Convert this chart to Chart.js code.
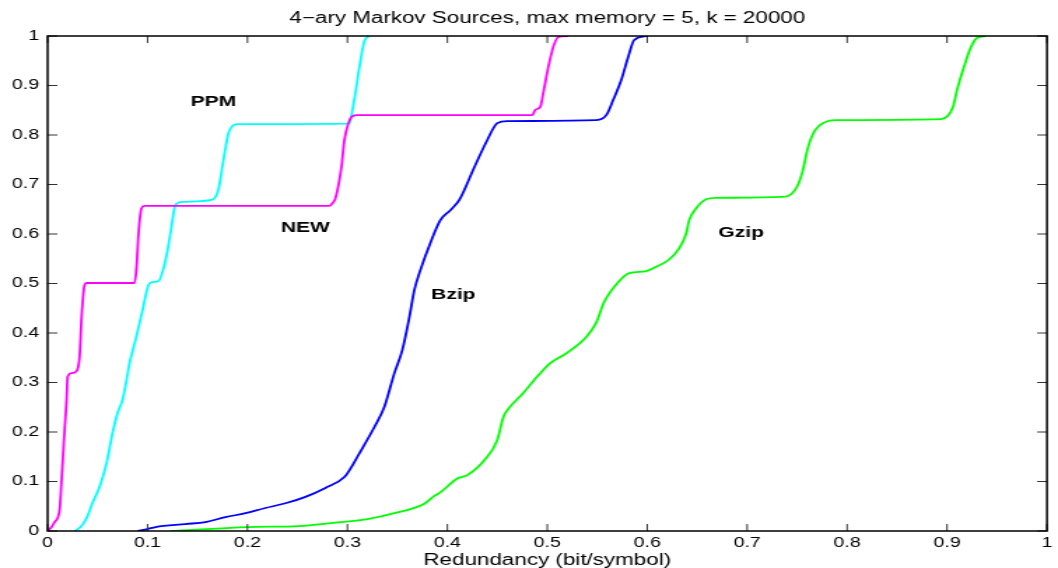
<!DOCTYPE html>
<html>
<head>
<meta charset="utf-8">
<script src="https://cdn.jsdelivr.net/npm/chart.js@4.4.1/dist/chart.umd.min.js"></script>
<style>
html, body { margin: 0; padding: 0; background: #fff; overflow: hidden; }
/* the original figure is stretched sideways, so the canvas is too */
#wrap { width: 756px; height: 568px; transform: scaleX(1.3995); transform-origin: 0 0; }
</style>
</head>
<body>
<div id="wrap"><canvas id="myChart"></canvas></div>
<script>
// NEW (magenta)
const newX = [0, 0.004, 0.007, 0.012, 0.014, 0.017, 0.019, 0.020, 0.024, 0.029, 0.032, 0.034, 0.037, 0.039,
    0.087, 0.089, 0.091, 0.094, 0.097, 0.282, 0.285, 0.288, 0.294, 0.297, 0.301, 0.305, 0.310,
    0.485, 0.488, 0.493, 0.496, 0.501, 0.506, 0.511, 0.521];
const newY = [0, 0.008, 0.018, 0.042, 0.103, 0.204, 0.265, 0.311, 0.319, 0.323, 0.352, 0.432, 0.497, 0.501,
    0.501, 0.533, 0.602, 0.652, 0.657, 0.657, 0.662, 0.672, 0.735, 0.790, 0.824, 0.838, 0.840,
    0.840, 0.851, 0.857, 0.885, 0.937, 0.978, 0.998, 1.0];

// PPM (cyan)
const ppmX = [0.027, 0.033, 0.039, 0.045, 0.052, 0.059, 0.065, 0.070, 0.075, 0.079, 0.082, 0.088, 0.095,
    0.101, 0.105, 0.111, 0.118, 0.123, 0.128, 0.135, 0.164, 0.168, 0.171, 0.176, 0.181, 0.185, 0.190,
    0.302, 0.305, 0.308, 0.312, 0.317, 0.322];
const ppmY = [0, 0.008, 0.026, 0.057, 0.089, 0.137, 0.198, 0.238, 0.265, 0.305, 0.339, 0.386, 0.446,
    0.497, 0.503, 0.505, 0.547, 0.602, 0.659, 0.665, 0.669, 0.675, 0.690, 0.750, 0.804, 0.818, 0.822,
    0.823, 0.850, 0.885, 0.937, 0.990, 1.0];

// Bzip (blue)
const bzipX = [0.090, 0.100, 0.108, 0.138, 0.158, 0.178, 0.198, 0.217, 0.238, 0.258, 0.278, 0.297, 0.304,
    0.310, 0.327, 0.337, 0.347, 0.355, 0.362, 0.367, 0.373, 0.383, 0.393, 0.403, 0.412, 0.427, 0.440,
    0.450, 0.460, 0.549, 0.559, 0.566, 0.574, 0.581, 0.587, 0.600];
const bzipY = [0, 0.004, 0.008, 0.014, 0.018, 0.028, 0.036, 0.046, 0.056, 0.069, 0.087, 0.109, 0.129,
    0.150, 0.210, 0.251, 0.319, 0.366, 0.432, 0.487, 0.527, 0.582, 0.628, 0.648, 0.669, 0.735, 0.790,
    0.824, 0.828, 0.830, 0.840, 0.871, 0.911, 0.958, 0.992, 1.0];

// Gzip (green)
const gzipX = [0.123, 0.201, 0.251, 0.284, 0.320, 0.347, 0.377, 0.387, 0.393, 0.410, 0.420, 0.437, 0.450,
    0.456, 0.460, 0.476, 0.490, 0.503, 0.519, 0.539, 0.549, 0.557, 0.572, 0.582, 0.599, 0.609, 0.621,
    0.632, 0.639, 0.642, 0.649, 0.659, 0.669, 0.735, 0.748, 0.755, 0.761, 0.768, 0.778, 0.788, 0.894,
    0.906, 0.910, 0.917, 0.924, 0.930, 0.939];
const gzipY = [0, 0.008, 0.010, 0.016, 0.024, 0.036, 0.055, 0.071, 0.078, 0.106, 0.113, 0.143, 0.184,
    0.230, 0.244, 0.279, 0.312, 0.339, 0.359, 0.392, 0.421, 0.463, 0.505, 0.521, 0.525, 0.534, 0.547,
    0.571, 0.601, 0.628, 0.652, 0.670, 0.673, 0.675, 0.689, 0.723, 0.776, 0.810, 0.826, 0.830, 0.832,
    0.857, 0.891, 0.938, 0.978, 0.996, 1.0];

// ticks
const xTicks = [0, 0.1, 0.2, 0.3, 0.4, 0.5, 0.6, 0.7, 0.8, 0.9, 1];
const xTickLabels = ['0', '0.1', '0.2', '0.3', '0.4', '0.5', '0.6', '0.7', '0.8', '0.9', '1'];
const yTicks = [0, 0.1, 0.2, 0.3, 0.4, 0.5, 0.6, 0.7, 0.8, 0.9, 1];
const yTickLabels = ['0', '0.1', '0.2', '0.3', '0.4', '0.5', '0.6', '0.7', '0.8', '0.9', '1'];

// curve names written inside the plot
const labelText = ['PPM', 'NEW', 'Bzip', 'Gzip'];
const labelX = [0.166, 0.258, 0.406, 0.694];
const labelY = [0.867, 0.612, 0.477, 0.602];

const titulo = '4\u2212ary Markov Sources, max memory = 5, k = 20000';

const ctx = document.getElementById('myChart').getContext('2d');
const fuente = "'Liberation Sans', Arial, Helvetica, sans-serif";
Chart.defaults.font.family = fuente;
Chart.defaults.color = '#000';

function getPuntos(xs, ys){
    let puntos = [];
    for(let i = 0; i < xs.length; i++){
        puntos.push({x: xs[i], y: ys[i]});
    }
    return puntos;
}

function serie(nombre, xs, ys, color){
    return {
        label: nombre,
        data: getPuntos(xs, ys),
        borderColor: color,
        backgroundColor: color,
        borderWidth: 1.8,
        showLine: true,
        pointRadius: 0,
        cubicInterpolationMode: 'monotone',
        fill: false
    };
}

// box around the axes with MATLAB style inward ticks, plus the title centred on the plot
const cajaEjes = {
    id: 'cajaEjes',
    afterDraw(chart){
        const c = chart.ctx;
        const {left, right, top, bottom} = chart.chartArea;
        const sx = chart.scales.x, sy = chart.scales.y;
        c.save();
        c.strokeStyle = '#333';
        c.lineWidth = 1;
        c.beginPath();
        xTicks.forEach(v => {
            const px = sx.getPixelForValue(v);
            c.moveTo(px, bottom); c.lineTo(px, bottom - 7);
            c.moveTo(px, top); c.lineTo(px, top + 7);
        });
        yTicks.forEach(v => {
            const py = sy.getPixelForValue(v);
            c.moveTo(left, py); c.lineTo(left + 7, py);
            c.moveTo(right, py); c.lineTo(right - 7, py);
        });
        c.stroke();
        c.strokeStyle = '#000';
        c.lineWidth = 1.5;
        c.strokeRect(left, top, right - left, bottom - top);

        c.font = '16px ' + fuente;
        c.fillStyle = '#000';
        c.textAlign = 'center';
        c.textBaseline = 'middle';
        c.fillText(titulo, (left + right) / 2, top - 17);
        c.restore();
    }
};

const etiquetas = {
    id: 'etiquetas',
    afterDatasetsDraw(chart){
        const c = chart.ctx;
        c.save();
        c.font = 'bold 15px ' + fuente;
        c.fillStyle = '#000';
        c.textAlign = 'center';
        c.textBaseline = 'middle';
        labelText.forEach((t, i) => {
            c.fillText(t, chart.scales.x.getPixelForValue(labelX[i]), chart.scales.y.getPixelForValue(labelY[i]));
        });
        c.restore();
    }
};

let grafico = new Chart(ctx, {
    type: 'scatter',
    data: {
        datasets: [
            serie('NEW', newX, newY, '#ff00ff'),
            serie('PPM', ppmX, ppmY, '#00ffff'),
            serie('Bzip', bzipX, bzipY, '#0000ff'),
            serie('Gzip', gzipX, gzipY, '#00ff00')
        ]
    },
    options: {
        responsive: true,
        maintainAspectRatio: false,
        animation: false,
        layout: {padding: {left: 0, right: 4, top: 36, bottom: 0}},
        plugins: {
            legend: {display: false},
            tooltip: {enabled: false},
            title: {display: false}
        },
        scales: {
            x: {
                type: 'linear',
                min: 0,
                max: 1,
                grid: {display: false, drawTicks: false},
                border: {display: false},
                afterBuildTicks: s => { s.ticks = xTicks.map(v => ({value: v})); },
                afterFit: s => { s.height = 37; },
                ticks: {
                    font: {size: 14},
                    padding: 4,
                    maxRotation: 0,
                    autoSkip: false,
                    callback: (v, i) => xTickLabels[i]
                },
                title: {
                    display: true,
                    text: 'Redundancy (bit/symbol)',
                    font: {size: 16},
                    padding: {top: 0, bottom: -2.5}
                }
            },
            y: {
                type: 'linear',
                min: 0,
                max: 1,
                grid: {display: false, drawTicks: false},
                border: {display: false},
                afterBuildTicks: s => { s.ticks = yTicks.map(v => ({value: v})); },
                afterFit: s => { s.width = 34; },
                ticks: {
                    font: {size: 14},
                    padding: 6,
                    autoSkip: false,
                    callback: (v, i) => yTickLabels[i]
                }
            }
        }
    },
    plugins: [cajaEjes, etiquetas]
});
</script>
</body>
</html>
